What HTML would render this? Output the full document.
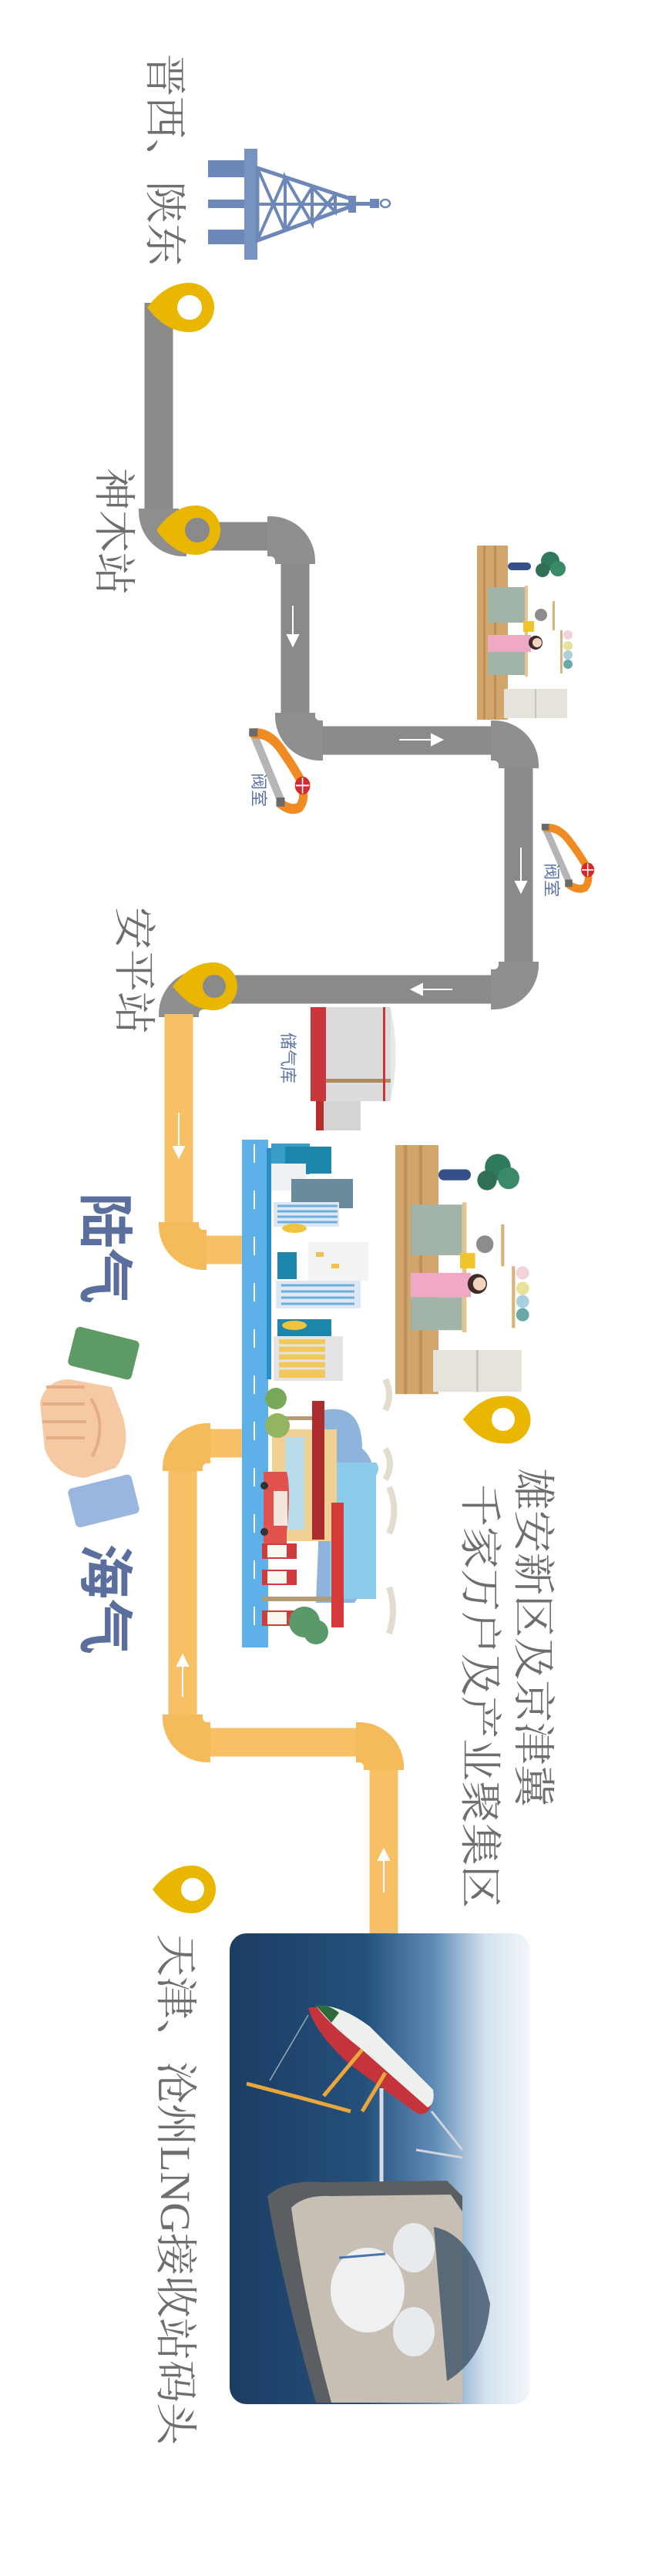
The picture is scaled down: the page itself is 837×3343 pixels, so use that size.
<!DOCTYPE html>
<html><head><meta charset="utf-8">
<style>
html,body{margin:0;padding:0;background:#fff;}
#w{position:relative;width:837px;height:3343px;overflow:hidden;background:#fff;}
.t{position:absolute;transform-origin:0 0;transform:rotate(90deg);white-space:nowrap;color:#6e6e6e;font-family:"Liberation Serif","Noto Serif CJK SC",serif;font-size:55px;line-height:56px;}
.b{position:absolute;transform-origin:0 0;transform:rotate(90deg);white-space:nowrap;color:#5f76a8;font-family:"Liberation Sans","Noto Sans CJK SC",sans-serif;font-size:22px;line-height:26px;}
.big{position:absolute;transform-origin:0 0;transform:rotate(90deg);white-space:nowrap;color:#5b6f9f;font-family:"Liberation Sans","Noto Sans CJK SC",sans-serif;font-weight:bold;font-size:72px;line-height:76px;}
svg{position:absolute;left:0;top:0;}
</style></head><body><div id="w">
<svg width="837" height="3343" viewBox="0 0 837 3343">
<defs>
<linearGradient id="ph" x1="0" y1="0" x2="1" y2="0">
<stop offset="0" stop-color="#1c3d63"/><stop offset="0.45" stop-color="#24507c"/><stop offset="0.68" stop-color="#5f8bb6"/><stop offset="0.85" stop-color="#d3e1ee"/><stop offset="1" stop-color="#f3f6fa"/>
</linearGradient>
<g id="kit">
<rect x="0" y="0" width="40" height="226" fill="#d2a56d"/>
<rect x="8" y="0" width="3" height="226" fill="#c08f56"/><rect x="22" y="0" width="3" height="226" fill="#c08f56"/>
<rect x="14" y="54" width="48" height="46" fill="#a2b4a8"/>
<rect x="14" y="138" width="48" height="30" fill="#a2b4a8"/>
<rect x="62" y="52" width="4" height="118" fill="#e3c58d"/>
<rect x="35" y="186" width="82" height="38" fill="#e6e2dc"/>
<rect x="75" y="186" width="2" height="38" fill="#c9c4bb"/>
<rect x="40" y="22" width="30" height="10" rx="5" fill="#34508a"/>
<circle cx="95" cy="20" r="12" fill="#2f7a5c"/><circle cx="105" cy="30" r="10" fill="#3a8a68"/><circle cx="85" cy="32" r="9" fill="#2e6f55"/>
<rect x="98" y="72" width="3" height="38" fill="#d7b47c"/><circle cx="83" cy="90" r="8" fill="#8c8c8c"/>
<rect x="60" y="98" width="14" height="14" fill="#f0c42c"/>
<rect x="14" y="116" width="56" height="22" fill="#f0a9c4"/>
<circle cx="76" cy="126" r="9" fill="#3d2b2b"/><circle cx="78" cy="126" r="6" fill="#f4d4bd"/>
<rect x="108" y="110" width="3" height="56" fill="#d7b47c"/>
<circle cx="118" cy="116" r="6" fill="#f1d4d9"/><circle cx="118" cy="130" r="6" fill="#e6e29c"/><circle cx="118" cy="142" r="6" fill="#a9d0dc"/><circle cx="118" cy="154" r="6" fill="#6aa9a8"/>
</g>
<g id="valve">
<line x1="8" y1="6" x2="40" y2="72" stroke="#b5b5b5" stroke-width="9"/>
<path d="M8,6 Q28,4 44,26 Q54,38 62,50 Q72,70 62,80 Q52,84 40,76" fill="none" stroke="#f08b23" stroke-width="10" stroke-linecap="round"/>
<rect x="3" y="1" width="10" height="8" fill="#6a6a6a"/><rect x="35" y="70" width="10" height="9" fill="#6a6a6a"/>
<circle cx="66" cy="58" r="9" fill="#d22b2b"/><path d="M58,58 H74 M66,50 V66" stroke="#fff" stroke-width="1.5"/>
</g>
</defs>

<!-- tower -->
<g fill="#6d88b8">
<rect x="270" y="208" width="50" height="22"/><rect x="270" y="259" width="50" height="11"/><rect x="270" y="298" width="50" height="19"/>
<rect x="317" y="193" width="17" height="144" fill="#7893bf"/>
<path d="M334,218 L455,258 L455,268 L334,312 Z" fill="none" stroke="#6d88b8" stroke-width="5"/>
<path d="M334,218 L370,300 L370,230 L405,290 L405,243 L435,275 L435,252 M334,312 L370,230 M370,300 L405,243 M405,290 L435,252 M334,265 H455" fill="none" stroke="#6d88b8" stroke-width="4"/>
<rect x="452" y="254" width="10" height="22"/><rect x="462" y="262" width="22" height="5"/><rect x="480" y="258" width="12" height="12"/>
<ellipse cx="500" cy="264" rx="6" ry="5" fill="none" stroke="#6d88b8" stroke-width="2.5"/>
</g>

<!-- pipes -->
<path d="M206,393 V664 A32,32 0 0 0 238,696 H351 A32,32 0 0 1 383,728 V929 A32,32 0 0 0 415,961 H641 A32,32 0 0 1 673,993 V1252 A32,32 0 0 1 641,1284 H264 A32,32 0 0 0 232,1316" fill="none" stroke="#8a8a8a" stroke-width="37"/>
<g fill="none" stroke="#8f8f8f" stroke-width="52">
<path d="M206,660 V664 A32,32 0 0 0 238,696 H242"/>
<path d="M347,696 H351 A32,32 0 0 1 383,728 V732"/>
<path d="M383,925 V929 A32,32 0 0 0 415,961 H419"/>
<path d="M637,961 H641 A32,32 0 0 1 673,993 V997"/>
<path d="M673,1248 V1252 A32,32 0 0 1 641,1284 H637"/>
<path d="M268,1284 H264 A32,32 0 0 0 232,1316 V1320"/>
</g>
<path d="M232,1316 V1590 A32,32 0 0 0 264,1622 H316" fill="none" stroke="#f7c064" stroke-width="37"/>
<path d="M316,1873 H269 A32,32 0 0 0 237,1905 V2229 A32,32 0 0 0 269,2261 H466 A32,32 0 0 1 498,2293 V2510" fill="none" stroke="#f7c064" stroke-width="37"/>
<g fill="none" stroke="#f5bb5a" stroke-width="52">
<path d="M232,1586 V1590 A32,32 0 0 0 264,1622 H268"/>
<path d="M273,1873 H269 A32,32 0 0 0 237,1905 V1909"/>
<path d="M237,2225 V2229 A32,32 0 0 0 269,2261 H273"/>
<path d="M462,2261 H466 A32,32 0 0 1 498,2293 V2297"/>
</g>

<!-- arrows -->
<g stroke="#fff" stroke-width="2" fill="#fff">
<line x1="380" y1="786" x2="380" y2="828"/><path d="M373,824 L387,824 L380,838 Z"/>
<line x1="518" y1="960" x2="564" y2="960"/><path d="M560,953 L560,967 L574,960 Z"/>
<line x1="676" y1="1100" x2="676" y2="1146"/><path d="M669,1144 L683,1144 L676,1158 Z"/>
<line x1="587" y1="1284" x2="544" y2="1284"/><path d="M548,1277 L548,1291 L534,1284 Z"/>
<line x1="232" y1="1444" x2="232" y2="1490"/><path d="M225,1488 L239,1488 L232,1502 Z"/>
<line x1="237" y1="2202" x2="237" y2="2160"/><path d="M230,2162 L244,2162 L237,2148 Z"/>
<line x1="498" y1="2456" x2="498" y2="2412"/><path d="M491,2414 L505,2414 L498,2400 Z"/>
</g>

<!-- pins -->
<g fill="#e9b702">
<path d="M191,399 Q215,367 246,367 A32,32 0 1 1 246,431 Q215,431 191,399 Z"/>
<path d="M203,688 Q226,656 254,656 A32,32 0 1 1 254,720 Q226,720 203,688 Z"/>
<path d="M224,1280 Q248,1249 277,1249 A31,31 0 1 1 277,1311 Q248,1311 224,1280 Z"/>
<path d="M601,1842 Q624,1812 652,1812 A31,31 0 1 1 652,1873 Q624,1873 601,1842 Z"/>
<path d="M198,2452 Q221,2421 249,2421 A31,31 0 1 1 249,2483 Q221,2483 198,2452 Z"/>
</g>
<circle cx="246" cy="399" r="16" fill="#fff"/>
<circle cx="256" cy="688" r="16" fill="#8a8a8a"/>
<circle cx="278" cy="1280" r="15" fill="#8a8a8a"/>
<circle cx="653" cy="1842" r="15" fill="#fff"/>
<circle cx="250" cy="2452" r="15" fill="#fff"/>

<!-- valves -->
<use href="#valve" transform="translate(320,944) scale(1.1,1.3)"/>
<use href="#valve" transform="translate(700,1068) scale(0.95,1.05)"/>

<!-- kitchens -->
<use href="#kit" transform="translate(619,708)"/>
<use href="#kit" transform="translate(513,1486) scale(1.4,1.43)"/>

<!-- storage -->
<rect x="403" y="1307" width="104" height="122" fill="#dcdcdc"/>
<rect x="403" y="1307" width="20" height="122" fill="#c9373a"/>
<rect x="423" y="1400" width="84" height="5" fill="#b08a5a"/>
<rect x="497" y="1307" width="3" height="122" fill="#c9373a"/>
<rect x="410" y="1429" width="58" height="38" fill="#d4d4d4"/>
<rect x="410" y="1429" width="10" height="38" fill="#b52c2c"/>
<path d="M507,1310 Q520,1368 507,1426" fill="#e8e8e8"/>

<!-- city -->
<rect x="314" y="1479" width="34" height="659" fill="#5eb0e8"/>
<path d="M330,1485 V2135" stroke="#fff" stroke-width="2" stroke-dasharray="24,36"/>
<rect x="346" y="1490" width="6" height="300" fill="#2a8fc0"/>
<rect x="352" y="1484" width="50" height="40" fill="#3a9ec8"/><rect x="370" y="1488" width="60" height="35" fill="#1d86ad"/>
<rect x="352" y="1510" width="45" height="35" fill="#eef1f4"/>
<rect x="378" y="1530" width="80" height="38" fill="#6b8a9c"/>
<rect x="355" y="1560" width="85" height="32" fill="#dde8f2"/><path d="M360,1565 H438 M360,1572 H438 M360,1579 H438 M360,1586 H438" stroke="#6faedc" stroke-width="3"/>
<rect x="360" y="1625" width="25" height="35" fill="#1d86ad"/><rect x="400" y="1612" width="78" height="50" fill="#f3f3f3"/>
<rect x="410" y="1625" width="10" height="6" fill="#f0c050"/><rect x="430" y="1640" width="10" height="6" fill="#f0c050"/>
<rect x="358" y="1662" width="110" height="36" fill="#dde8f2"/><path d="M365,1668 H460 M365,1676 H460 M365,1684 H460 M365,1692 H460" stroke="#6faedc" stroke-width="3"/>
<rect x="360" y="1712" width="70" height="22" fill="#1d86ad"/>
<rect x="355" y="1734" width="90" height="58" fill="#e4e4e4"/><rect x="362" y="1738" width="60" height="50" fill="#f3c85a"/>
<path d="M362,1746 H422 M362,1756 H422 M362,1766 H422 M362,1776 H422" stroke="#e4e4e4" stroke-width="3"/>
<ellipse cx="382" cy="1594" rx="16" ry="6" fill="#f1c440"/><ellipse cx="382" cy="1720" rx="16" ry="6" fill="#f1c440"/>
<!-- gas station -->
<path d="M420,1830 Q470,1820 470,1880 Q495,1900 480,1960 Q495,2030 460,2080 L410,2080 Z" fill="#8eb4dc"/>
<path d="M428,1898 H488 Q494,1905 488,1915 V2075 H428 Z" fill="#8ccbea"/>
<rect x="353" y="1855" width="84" height="145" fill="#f1d193"/>
<rect x="370" y="1865" width="25" height="120" fill="#b9dcea"/>
<rect x="405" y="1818" width="16" height="180" fill="#ad2d2f"/>
<rect x="430" y="1950" width="16" height="162" fill="#d33a3a"/>
<rect x="360" y="1838" width="45" height="5" fill="#b39c74"/><rect x="340" y="2072" width="90" height="6" fill="#b39c74"/>
<path d="M342,1910 H372 Q378,1930 372,1990 V2008 H342 Z" fill="#e0524e"/>
<rect x="355" y="1935" width="18" height="45" fill="#f4e7da"/>
<circle cx="343" cy="1928" r="5" fill="#333"/><circle cx="343" cy="1988" r="5" fill="#333"/>
<g fill="#cf3b3b"><rect x="340" y="2003" width="45" height="20"/><rect x="340" y="2037" width="45" height="20"/><rect x="340" y="2090" width="45" height="20"/></g>
<g fill="#fbf7ee"><rect x="347" y="2005" width="25" height="16"/><rect x="347" y="2039" width="25" height="16"/><rect x="347" y="2092" width="25" height="16"/></g>
<circle cx="358" cy="1815" r="14" fill="#78a85a"/><circle cx="360" cy="1850" r="16" fill="#93b460"/>
<circle cx="395" cy="2105" r="20" fill="#5a9a6a"/><circle cx="410" cy="2118" r="16" fill="#5a9a6a"/>
<path d="M500,1790 Q510,1810 500,1830 M500,1880 Q512,1900 500,1920 M505,1930 Q518,1960 505,1990 M505,2060 Q515,2090 505,2120" stroke="#e3ddd0" stroke-width="8" fill="none"/>

<!-- handshake -->
<rect x="92" y="1730" width="85" height="52" rx="6" fill="#5e9a66" transform="rotate(14 134 1756)"/>
<rect x="92" y="1922" width="85" height="52" rx="6" fill="#9ab5de" transform="rotate(-14 134 1948)"/>
<path d="M90,1790 Q60,1790 52,1820 L58,1880 Q70,1915 110,1918 L150,1905 Q170,1880 160,1840 L145,1800 Z" fill="#f5c9a3"/>
<path d="M60,1800 L110,1800 M55,1822 L110,1822 M55,1845 L112,1845 M60,1866 L110,1866" stroke="#e4ad86" stroke-width="4"/>
<path d="M118,1815 Q140,1850 120,1890" stroke="#e4ad86" stroke-width="4" fill="none"/>

<!-- photo -->
<rect x="298" y="2509" width="390" height="611" rx="22" fill="url(#ph)"/>
<!-- ship -->
<path d="M400,2606 Q420,2598 470,2640 L560,2730 Q555,2748 540,2742 L455,2680 Q410,2640 400,2606 Z" fill="#c4343a"/>
<path d="M410,2603 Q440,2600 480,2630 L562,2712 Q565,2730 555,2735 L470,2660 Q425,2625 410,2603 Z" fill="#eef0ee"/>
<path d="M410,2603 Q425,2600 440,2612 L430,2625 Z" fill="#2f6a3a"/>
<path d="M320,2704 L400,2725 L455,2740 M420,2720 L470,2660 M470,2740 L500,2690" stroke="#e9a63a" stroke-width="5" fill="none"/>
<path d="M350,2700 L400,2615" stroke="#9ab" stroke-width="1.5"/>
<path d="M495,2710 V2840" stroke="#d9dde2" stroke-width="5"/>
<path d="M560,2740 L600,2790 M540,2790 L600,2800" stroke="#d0d6de" stroke-width="3"/>
<!-- breakwater & land -->
<path d="M347,2850 Q370,2828 420,2832 L580,2830 L600,2850 L600,3118 L410,3118 Q365,2960 347,2850 Z" fill="#5b5f63"/>
<path d="M378,2865 Q395,2848 430,2850 L585,2848 L600,2870 L600,3118 L430,3118 Q395,2990 378,2865 Z" fill="#c8bfb4"/>
<path d="M563,2890 Q615,2900 636,2990 Q630,3060 580,3090 Z" fill="#3f5468" opacity="0.8"/>
<ellipse cx="477" cy="2972" rx="48" ry="55" fill="#eef0f2"/>
<ellipse cx="537" cy="2917" rx="27" ry="32" fill="#e8ebee"/>
<ellipse cx="537" cy="3026" rx="27" ry="32" fill="#e8ebee"/>
<path d="M440,2930 L500,2925" stroke="#4a74b0" stroke-width="3"/>
</svg>

<div class="t" style="left:241px;top:70px;">晋西、陕东</div>
<div class="t" style="left:175px;top:607px;">神木站</div>
<div class="t" style="left:201px;top:1177px;">安平站</div>
<div class="t" style="left:719px;top:1905px;">雄安新区及京津冀</div>
<div class="t" style="left:650px;top:1926px;">千家万户及产业聚集区</div>
<div class="t" style="left:255px;top:2510px;">天津、沧州LNG接收站码头</div>
<div class="b" style="left:348px;top:1003px;">阀室</div>
<div class="b" style="left:728px;top:1120px;">阀室</div>
<div class="b" style="left:386px;top:1340px;">储气库</div>
<div class="big" style="left:173px;top:1548px;">陆气</div>
<div class="big" style="left:173px;top:2003px;">海气</div>
</div></body></html>
